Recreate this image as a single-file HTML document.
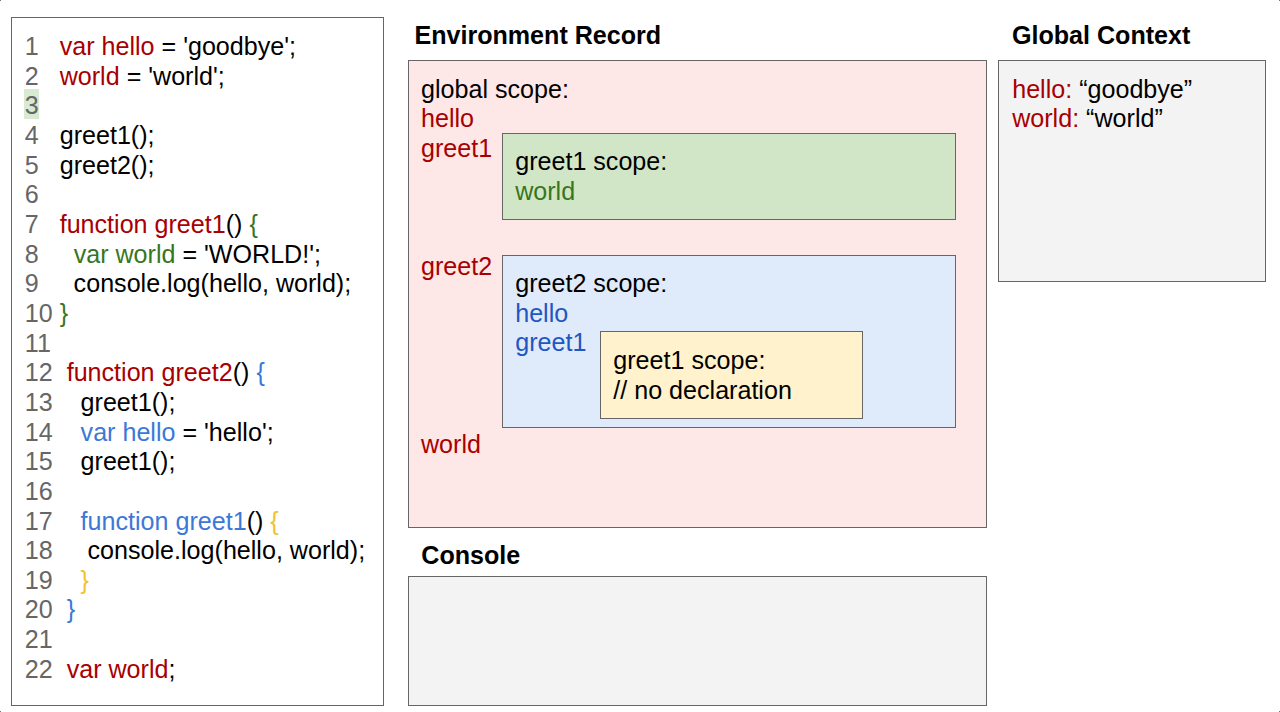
<!DOCTYPE html>
<html><head><meta charset="utf-8">
<style>
html,body{margin:0;padding:0;background:#fff;width:1280px;height:712px;overflow:hidden;position:relative}
.b{position:absolute;box-sizing:border-box;border:1px solid #666}
.t{position:absolute;font-family:"Liberation Sans",sans-serif;font-size:25.1px;line-height:29.6px;white-space:pre;color:#000}
.bd{font-weight:bold}
.r{color:#a80000}.g{color:#38761d}.bl{color:#2256c2}.cb{color:#3c78d8}.y{color:#f1c232}.n{color:#666}
</style></head><body>
<!-- code box -->
<div class="b" style="left:11px;top:17px;width:373px;height:689px;background:#fff"></div>
<div style="position:absolute;left:24px;top:89px;width:15px;height:30px;background:#d9ead3"></div>
<div class="t" style="left:24.8px;top:32px;line-height:29.65px"><span class="n">1</span>   <span class="r">var hello</span> = 'goodbye';
<span class="n">2</span>   <span class="r">world</span> = 'world';
<span class="n">3</span>
<span class="n">4</span>   greet1();
<span class="n">5</span>   greet2();
<span class="n">6</span>
<span class="n">7</span>   <span class="r">function greet1</span>() <span class="g">{</span>
<span class="n">8</span>     <span class="g">var world</span> = 'WORLD!';
<span class="n">9</span>     console.log(hello, world);
<span class="n">10</span> <span class="g">}</span>
<span class="n">11</span>
<span class="n">12</span>  <span class="r">function greet2</span>() <span class="cb">{</span>
<span class="n">13</span>    greet1();
<span class="n">14</span>    <span class="cb">var hello</span> = 'hello';
<span class="n">15</span>    greet1();
<span class="n">16</span>
<span class="n">17</span>    <span class="cb">function greet1</span>() <span class="y">{</span>
<span class="n">18</span>     console.log(hello, world);
<span class="n">19</span>    <span class="y">}</span>
<span class="n">20</span>  <span class="cb">}</span>
<span class="n">21</span>
<span class="n">22</span>  <span class="r">var world</span>;</div>

<!-- titles -->
<div class="t bd" style="left:414.4px;top:21px">Environment Record</div>
<div class="t bd" style="left:1011.9px;top:21px">Global Context</div>
<div class="t bd" style="left:421.3px;top:541px">Console</div>

<!-- env record -->
<div class="b" style="left:408px;top:60px;width:579px;height:468px;background:#fde7e7"></div>
<div class="t" style="left:421px;top:74.7px">global scope:</div>
<div class="t r" style="left:421px;top:103.9px">hello</div>
<div class="t r" style="left:421px;top:134.3px">greet1</div>
<div class="t r" style="left:421px;top:251.8px">greet2</div>
<div class="t r" style="left:421px;top:429.7px">world</div>

<div class="b" style="left:502px;top:133px;width:454px;height:87px;background:#d1e6c7"></div>
<div class="t" style="left:515.2px;top:147px">greet1 scope:</div>
<div class="t g" style="left:515.2px;top:176.8px">world</div>

<div class="b" style="left:502px;top:255px;width:454px;height:173px;background:#dfeafa"></div>
<div class="t" style="left:515.2px;top:269px">greet2 scope:</div>
<div class="t bl" style="left:515.2px;top:298.8px">hello</div>
<div class="t bl" style="left:515.2px;top:327.9px">greet1</div>

<div class="b" style="left:600px;top:331px;width:263px;height:88px;background:#fff2cc"></div>
<div class="t" style="left:613.3px;top:345.9px">greet1 scope:</div>
<div class="t" style="left:613.3px;top:376px">// no declaration</div>

<!-- global context -->
<div class="b" style="left:998px;top:60px;width:268px;height:222px;background:#f3f3f3"></div>
<div class="t" style="left:1012.2px;top:75.1px"><span class="r">hello:</span> “goodbye”</div>
<div class="t" style="left:1012.2px;top:103.6px"><span class="r">world:</span> “world”</div>

<!-- console -->
<div class="b" style="left:408px;top:576px;width:579px;height:130px;background:#f3f3f3"></div>
<div style="position:absolute;left:0;top:0;width:1px;height:1px;background:#777"></div>
<div style="position:absolute;left:1279px;top:0;width:1px;height:1px;background:#777"></div>
<div style="position:absolute;left:0;top:711px;width:1px;height:1px;background:#777"></div>
<div style="position:absolute;left:1279px;top:711px;width:1px;height:1px;background:#777"></div>
</body></html>
